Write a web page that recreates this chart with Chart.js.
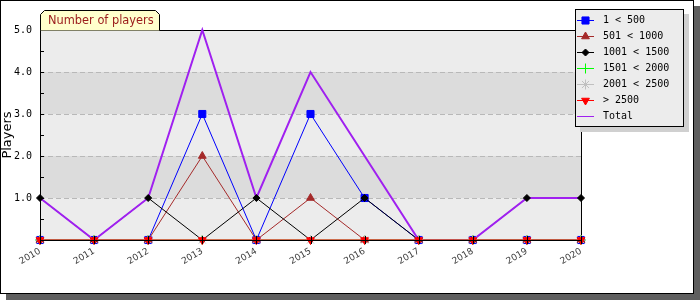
<!DOCTYPE html>
<html><head><meta charset="utf-8">
<script src="https://cdn.jsdelivr.net/npm/chart.js@4"></script>
<style>html,body{margin:0;padding:0;background:#fff;}</style>
</head><body>
<canvas id="c" width="700" height="300" style="width:700px;height:300px;display:block"></canvas>
<script>
const years = ['2010','2011','2012','2013','2014','2015','2016','2017','2018','2019','2020'];
const s500 = [0,0,0,3,0,3,1,0,0,0,0];
const s1000 = [0,0,0,2,0,1,0,0,0,0,0];
const s1500 = [1,0,1,0,1,0,1,0,0,1,1];
const s2000 = [0,0,0,0,0,0,0,0,0,0,0];
const s2500 = [0,0,0,0,0,0,0,0,0,0,0];
const sOver = [0,0,0,0,0,0,0,0,0,0,0];
const total = [1,0,1,5,1,4,2,0,0,1,1];
const seriesNames = ['1 < 500','501 < 1000','1001 < 1500','1501 < 2000','2001 < 2500','> 2500','Total'];
const yTicks = [1,2,3,4,5];
const chartTitle = 'Number of players';
const yTitle = 'Players';

const styles = [
  {color:'#0000ff', ps:'rect', r:5, rot:0},
  {color:'#a52a2a', ps:'triangle', r:4.5, rot:0},
  {color:'#000000', ps:'rectRot', r:3.5, rot:0},
  {color:'#00ff00', ps:'cross', r:5, rot:0},
  {color:'#c0c0c0', ps:'star', r:5, rot:0},
  {color:'#ff0000', ps:'triangle', r:4.5, rot:180},
  {color:'#a020f0', ps:false, r:0, rot:0}
];

function ds(label, data, st, order, opts) {
  return Object.assign({
    label, data, order, clip: false,
    borderColor: st.color, backgroundColor: st.color,
    borderWidth: 1, pointStyle: st.ps, pointRadius: st.r, pointRotation: st.rot,
    pointBorderWidth: 1, pointBorderColor: st.color, pointBackgroundColor: st.color,
    tension: 0, fill: false
  }, opts || {});
}

const datasets = [
  ds(seriesNames[0], s500, styles[0], 7),
  ds(seriesNames[1], s1000, styles[1], 6),
  ds(seriesNames[2], s1500, styles[2], 5, {pointRadius:0}),
  ds(seriesNames[6], total, styles[6], 4, {borderWidth:2, pointRadius:0}),
  ds(seriesNames[2], s1500, styles[2], 3, {showLine:false}),
  ds(seriesNames[3], s2000, styles[3], 2),
  ds(seriesNames[4], s2500, styles[4], 1),
  ds(seriesNames[5], sOver, styles[5], 0)
];

const deco = {
  id: 'deco',
  beforeDraw(chart) {
    const ctx = chart.ctx, ca = chart.chartArea, y = chart.scales.y;
    ctx.save();
    ctx.fillStyle = '#5f5f5f';
    ctx.fillRect(6, 6, 694, 294);
    ctx.fillStyle = '#ffffff';
    ctx.fillRect(0, 0, 694, 294);
    ctx.strokeStyle = '#000';
    ctx.lineWidth = 1;
    ctx.strokeRect(0.5, 0.5, 693, 293);
    for (let k = 0; k < 5; k++) {
      const yt = y.getPixelForValue(k + 1), yb = y.getPixelForValue(k);
      ctx.fillStyle = (k % 2 === 0) ? '#ececec' : '#dcdcdc';
      ctx.fillRect(ca.left, yt, ca.right - ca.left, yb - yt);
    }
    ctx.strokeStyle = '#b8b8b8';
    ctx.setLineDash([5, 3]);
    for (let v = 1; v < 5; v++) {
      const py = Math.round(y.getPixelForValue(v)) + 0.5;
      ctx.beginPath(); ctx.moveTo(ca.left, py); ctx.lineTo(ca.right, py); ctx.stroke();
    }
    ctx.restore();
  },
  beforeDatasetsDraw(chart) {
    const ctx = chart.ctx, ca = chart.chartArea;
    ctx.save();
    ctx.strokeStyle = '#000'; ctx.lineWidth = 1;
    ctx.beginPath();
    ctx.moveTo(Math.round(ca.left) + 0.5, Math.round(ca.top) + 0.5);
    ctx.lineTo(Math.round(ca.right) + 0.5, Math.round(ca.top) + 0.5);
    ctx.lineTo(Math.round(ca.right) + 0.5, Math.round(ca.bottom) + 0.5);
    ctx.stroke();
    ctx.restore();
  },
  afterDatasetsDraw(chart) {
    const ctx = chart.ctx, ca = chart.chartArea, x = chart.scales.x, y = chart.scales.y;
    ctx.save();
    ctx.strokeStyle = '#000'; ctx.lineWidth = 1; ctx.setLineDash([]);
    ctx.beginPath();
    ctx.moveTo(Math.round(ca.left) + 0.5, Math.round(ca.top));
    ctx.lineTo(Math.round(ca.left) + 0.5, Math.round(ca.bottom) + 0.5);
    ctx.lineTo(Math.round(ca.right) + 1, Math.round(ca.bottom) + 0.5);
    ctx.stroke();
    for (let v = 0.5; v < 5; v += 0.5) {
      const py = Math.round(y.getPixelForValue(v)) + 0.5;
      ctx.beginPath(); ctx.moveTo(ca.left, py); ctx.lineTo(ca.left + 4, py); ctx.stroke();
    }
    for (let i = 0; i < years.length; i++) {
      const px = Math.round(x.getPixelForValue(i)) + 0.5;
      ctx.beginPath(); ctx.moveTo(px, ca.bottom - 4); ctx.lineTo(px, ca.bottom + 4); ctx.stroke();
    }
    // title tab
    ctx.beginPath();
    ctx.moveTo(40.5, 30.5); ctx.lineTo(40.5, 14.5); ctx.lineTo(44.5, 10.5);
    ctx.lineTo(155.5, 10.5); ctx.lineTo(159.5, 14.5); ctx.lineTo(159.5, 30.5);
    ctx.fillStyle = '#ffffcc'; ctx.fill(); ctx.stroke();
    ctx.fillStyle = '#9a1a1a';
    ctx.font = '11.4px "DejaVu Sans"';
    ctx.textBaseline = 'middle'; ctx.textAlign = 'left';
    ctx.fillText(chartTitle, 48, 21);
    // legend
    const lx = 575, ly = 9, lw = 108, lh = 117;
    ctx.fillStyle = '#d0d0d0';
    ctx.fillRect(lx + 5, ly + 5, lw + 1, lh + 1);
    ctx.fillStyle = '#ececec';
    ctx.fillRect(lx, ly, lw, lh);
    ctx.strokeStyle = '#000';
    ctx.strokeRect(lx + 0.5, ly + 0.5, lw, lh);
    ctx.font = '10px "DejaVu Sans Mono"';
    for (let i = 0; i < seriesNames.length; i++) {
      const st = styles[i];
      const cy = Math.round(20 + i * 16) + 0.5;
      ctx.strokeStyle = st.color; ctx.fillStyle = st.color; ctx.lineWidth = 1;
      ctx.beginPath(); ctx.moveTo(577, cy); ctx.lineTo(594, cy); ctx.stroke();
      if (st.ps) {
        Chart.helpers.drawPoint(ctx, {pointStyle: st.ps, radius: st.r, rotation: st.rot, borderWidth: 1}, 585.5, cy);
      }
      ctx.fillStyle = '#000';
      ctx.fillText(seriesNames[i], 603, cy);
    }
    ctx.restore();
  }
};

new Chart(document.getElementById('c'), {
  type: 'line',
  data: { labels: years, datasets },
  options: {
    responsive: false, animation: false, events: [], devicePixelRatio: 1,
    layout: { padding: { left: 0, right: 119, top: 30, bottom: 0 } },
    plugins: { legend: { display: false }, tooltip: { enabled: false }, title: { display: false } },
    scales: {
      x: {
        type: 'category', offset: false,
        grid: { display: false, drawTicks: false },
        border: { display: false },
        ticks: { autoSkip: false, minRotation: 30, maxRotation: 30, padding: 6, color: '#404040', font: { family: 'DejaVu Sans', size: 9 } },
        afterFit(s) { s.height = 60; }
      },
      y: {
        min: 0, max: 5,
        grid: { display: false, drawTicks: false },
        border: { display: false },
        afterBuildTicks(s) { s.ticks = [0].concat(yTicks).map(v => ({ value: v })); },
        ticks: { padding: 8, color: '#000', font: { family: 'DejaVu Sans Mono', size: 10 },
          callback: (v) => (v === 0 ? '' : Number(v).toFixed(1)) },
        title: { display: true, text: yTitle, color: '#000', padding: 0, font: { family: 'DejaVu Sans', size: 13 } },
        afterFit(s) { s.width = 40; }
      }
    }
  },
  plugins: [deco]
});
</script>
</body></html>
